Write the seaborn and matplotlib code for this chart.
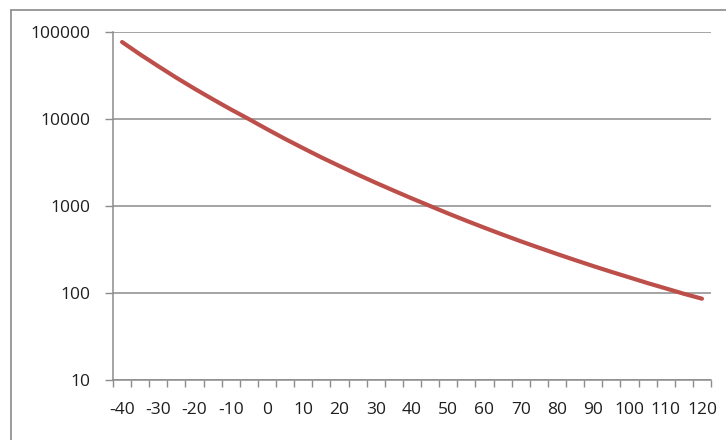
import matplotlib
matplotlib.use("Agg")
import matplotlib.pyplot as plt
from matplotlib.lines import Line2D
from matplotlib.ticker import FixedLocator, NullLocator
import numpy as np
import seaborn as sns

# temperature categories (deg C), 5 degree steps
temps = [-40, -35, -30, -25, -20, -15, -10, -5, 0, 5, 10, 15, 20, 25, 30, 35,
         40, 45, 50, 55, 60, 65, 70, 75, 80, 85, 90, 95, 100, 105, 110, 115, 120]
# resistance
resist = [76700, 55200, 40400, 29800, 22300, 16900, 12900, 9970, 7640, 5900,
          4610, 3620, 2880, 2300, 1850, 1500, 1220, 1000, 820, 677, 562, 469,
          393, 332, 281, 239, 204, 175, 151, 130, 113, 98, 86]
x_labels = ["-40", "-30", "-20", "-10", "0", "10", "20", "30", "40", "50",
            "60", "70", "80", "90", "100", "110", "120"]
y_ticks = [10, 100, 1000, 10000, 100000]
y_labels = ["10", "100", "1000", "10000", "100000"]

sns.set_style("white")
plt.rcParams["font.family"] = ["Open Sans", "DejaVu Sans"]

W, H = 726, 440
fig = plt.figure(figsize=(W / 100, H / 100), dpi=100)
ax = fig.add_axes([113 / W, 1 - 380 / H, (711 - 113) / W, (380 - 32) / H])

grid_col = "#8c8c8c"
txt_col = "#1e1e1e"

pos = np.arange(len(temps))
sns.lineplot(x=pos, y=resist, ax=ax, color="#bc4f4a", linewidth=3.0,
             solid_capstyle="round", zorder=3)

ax.set_yscale("log")
ax.set_ylim(10, 100000)
ax.set_xlim(-0.5, len(temps) - 0.5)

ax.yaxis.set_major_locator(FixedLocator(y_ticks))
ax.set_yticklabels(y_labels)
ax.yaxis.set_minor_locator(NullLocator())
ax.grid(axis="y", which="major", color=grid_col, linewidth=1.1)
ax.grid(axis="x", visible=False)

ax.set_xticks(pos[::2])
ax.set_xticklabels(x_labels)
ax.set_xticks(np.arange(len(temps) + 1) - 0.5, minor=True)

ax.tick_params(axis="x", which="major", length=0, pad=16, labelsize=12.5,
               labelcolor=txt_col)
ax.tick_params(axis="x", which="minor", length=5, width=1, color=grid_col,
               direction="out", bottom=True)
ax.tick_params(axis="y", which="major", length=6, width=1, color=grid_col,
               direction="out", left=True, pad=10, labelsize=12.5,
               labelcolor=txt_col)

for side in ["top", "right"]:
    ax.spines[side].set_visible(False)
for side in ["left", "bottom"]:
    ax.spines[side].set_color(grid_col)
    ax.spines[side].set_linewidth(1.1)

ax.set_xlabel("")
ax.set_ylabel("")

# outer chart frame (only left and top edges visible in the crop)
fig.add_artist(Line2D([11 / W, 11 / W], [0, 1 - 10 / H], color="#8a8a8a",
                      linewidth=1.2, transform=fig.transFigure))
fig.add_artist(Line2D([11 / W, 1], [1 - 10 / H, 1 - 10 / H], color="#8a8a8a",
                      linewidth=1.2, transform=fig.transFigure))

fig.savefig("out.png", dpi=100)
